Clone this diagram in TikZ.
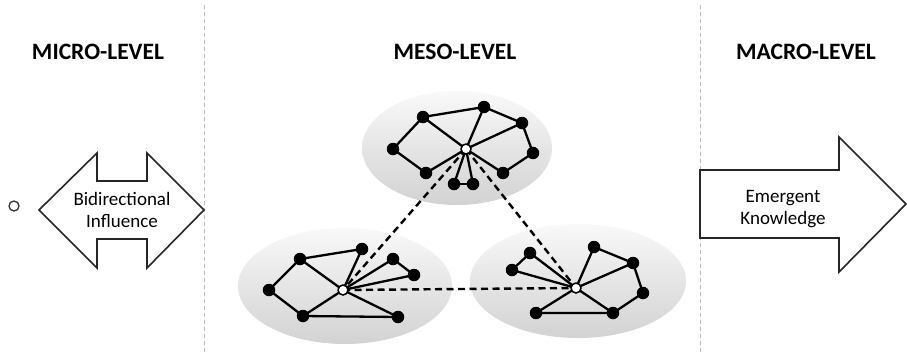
\documentclass[tikz,border=0pt]{standalone}
\usepackage{fontspec}
\setmainfont{Carlito}
\usetikzlibrary{shadings}
\begin{document}
\begin{tikzpicture}[x=1pt,y=-1pt,
  title/.style={font=\fontsize{23.5}{28}\selectfont\bfseries, inner sep=0pt},
  label/.style={font=\fontsize{19}{22}\selectfont, align=center, inner sep=0pt},
  wnode/.style={circle, fill=white, draw=black, line width=1.5pt, minimum size=10pt, inner sep=0pt},
  bnode/.style={circle, fill=black, minimum size=12.5pt, inner sep=0pt},
  edge/.style={line width=2.3pt},
  link/.style={line width=2.4pt, dash pattern=on 7pt off 4.5pt},
  cluster/.style={top color=gray!5, bottom color=gray!35, draw=none},
  divider/.style={gray!50, line width=0.8pt, dash pattern=on 4pt off 3pt},
  bigarrow/.style={draw=black!85, line width=1.6pt, fill=white, line join=miter}
]
\useasboundingbox (0,0) rectangle (907,354);
\fill[white] (0,0) rectangle (907,354);

% dividers
\coordinate (d1t) at (204,5); \coordinate (d1b) at (204,354);
\coordinate (d2t) at (700,5); \coordinate (d2b) at (700,354);
\draw[divider] (d1t) -- (d1b);
\draw[divider] (d2t) -- (d2b);

% titles
\node[title] (micro) at (98,52) {MICRO-LEVEL};
\node[title] (meso) at (455,52) {MESO-LEVEL};
\node[title] (macro) at (806,52) {MACRO-LEVEL};

% small circle
\node[circle, draw=black!80, line width=1.3pt, minimum size=10pt, inner sep=0pt] (dot) at (14,206) {};

% double arrow
\draw[bigarrow] (39,210) -- (97,153) -- (97,181) -- (147,181) -- (147,153) -- (204,210)
  -- (147,268) -- (147,239) -- (97,239) -- (97,268) -- cycle;
\node[label] (bidi) at (122,210) {Bidirectional\\Influence};

% right arrow
\draw[bigarrow] (700,170) -- (839,170) -- (839,137) -- (906,204) -- (839,272)
  -- (839,238) -- (700,238) -- cycle;
\node[label] (emerg) at (783,209) {Emergent\\Knowledge};

% cluster ellipses
\shade[cluster] (457,148) ellipse [x radius=95, y radius=57];
\shade[cluster] (345,286) ellipse [x radius=107, y radius=58];
\shade[cluster] (578,281) ellipse [x radius=108, y radius=57];

% top cluster
\coordinate (tc) at (466,149);
\coordinate (ta) at (423,117);
\coordinate (tb) at (484,107);
\coordinate (tcc) at (522,123);
\coordinate (td) at (533,153);
\coordinate (te) at (503,173);
\coordinate (tf) at (473,184);
\coordinate (tg) at (454,184);
\coordinate (th) at (426,173);
\coordinate (ti) at (393,149);

% bottom-left cluster
\coordinate (lc) at (343,290);
\coordinate (l1) at (300,259);
\coordinate (l2) at (362,249);
\coordinate (l3) at (393,259);
\coordinate (l4) at (414,275);
\coordinate (l5) at (269,290);
\coordinate (l6) at (303,316);
\coordinate (l7) at (398,317);

% bottom-right cluster
\coordinate (rc) at (576,288);
\coordinate (r1) at (530,253);
\coordinate (r2) at (512,270);
\coordinate (r3) at (594,247);
\coordinate (r4) at (633,263);
\coordinate (r5) at (643,293);
\coordinate (r6) at (613,313);
\coordinate (r7) at (536,313);

% dashed links
\draw[link] (tc) -- (lc);
\draw[link] (tc) -- (rc);
\draw[link] (lc) -- (rc);

% edges top
\draw[edge] (ta) -- (tb) -- (tcc) -- (td) -- (te);
\draw[edge] (ta) -- (ti) -- (th);
\draw[edge] (tg) -- (tf);
\foreach \n in {ta,tb,tcc,te,tf,tg,th} \draw[edge] (tc) -- (\n);

% edges left
\draw[edge] (l2) -- (l1) -- (l5) -- (l6) -- (l7);
\draw[edge] (l3) -- (l4);
\foreach \n in {l1,l2,l3,l4,l6,l7} \draw[edge] (lc) -- (\n);

% edges right
\draw[edge] (r1) -- (r2);
\draw[edge] (r3) -- (r4) -- (r5) -- (r6) -- (r7);
\foreach \n in {r1,r2,r3,r4,r6,r7} \draw[edge] (rc) -- (\n);

% black nodes
\foreach \n in {ta,tb,tcc,td,te,tf,tg,th,ti,l1,l2,l3,l4,l5,l6,l7,r1,r2,r3,r4,r5,r6,r7}
  \node[bnode] (n-\n) at (\n) {};

% white hubs
\node[wnode] (thub) at (tc) {};
\node[wnode] (lhub) at (lc) {};
\node[wnode] (rhub) at (rc) {};
\end{tikzpicture}
\end{document}
